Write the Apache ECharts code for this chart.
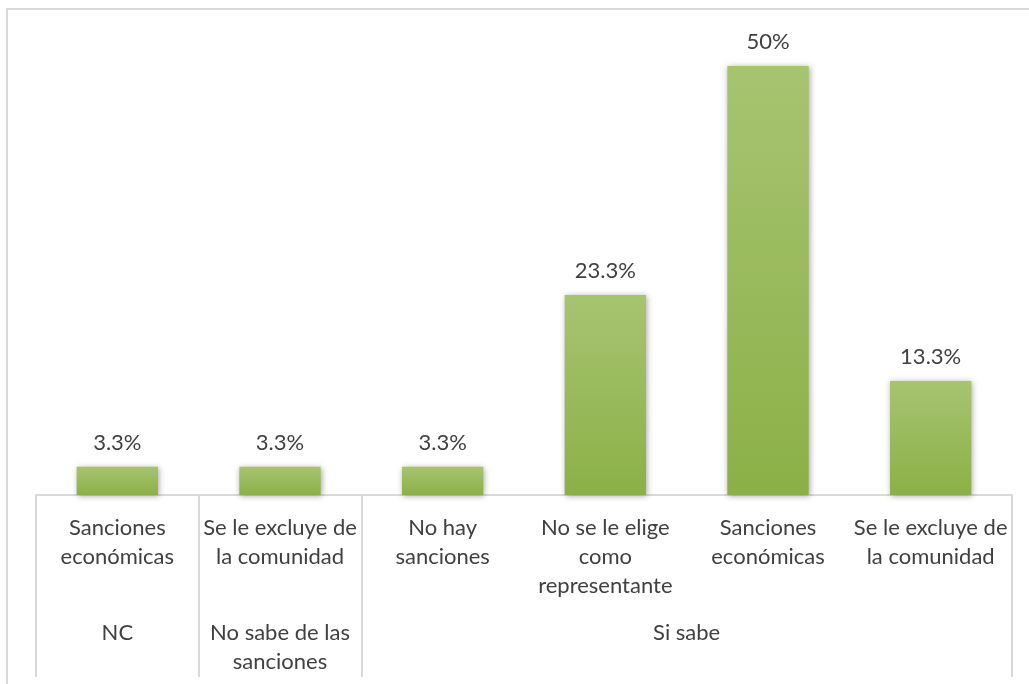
<!DOCTYPE html>
<html>
<head>
<meta charset="utf-8">
<script src="https://cdn.jsdelivr.net/npm/echarts@6/dist/echarts.min.js"></script>
<style>
  html, body { margin: 0; padding: 0; background: #fff; overflow: hidden; }
  #frame {
    position: absolute; left: 6px; top: 8px; width: 1100px; height: 760px;
    border: 2px solid #d9d9d9; box-sizing: border-box;
  }
  #main { position: absolute; left: 0; top: 0; width: 1029px; height: 684px; }
</style>
</head>
<body>
<div id="frame"></div>
<div id="main"></div>
<script>
// categorias (nivel 1) y grupos (nivel 2)
const categories = ['Sanciones\neconómicas', 'Se le excluye de\nla comunidad', 'No hay\nsanciones',
  'No se le elige\ncomo\nrepresentante', 'Sanciones\neconómicas', 'Se le excluye de\nla comunidad']
const values = [3.3, 3.3, 3.3, 23.3, 50, 13.3]
const groupNames = ['NC', 'No sabe de las\nsanciones', 'Si sabe']
const groupSpans = [1, 1, 4]

// limites y centros de los grupos en unidades de categoria
const groupEdges = [0]
const groupCenters = []
groupSpans.forEach((s, i) => {
  groupCenters.push(groupEdges[i] + s / 2)
  groupEdges.push(groupEdges[i] + s)
})

const font = 'Lato, "Open Sans", sans-serif'
const txt = '#404040'
const gray = '#d9d9d9'

var myChart = echarts.init(document.getElementById('main'))
const option = {
  animation: false,
  grid: { left: 36, right: 17, top: 66, bottom: 189 },
  xAxis: [
    {
      type: 'category',
      data: categories,
      axisLine: { lineStyle: { color: gray, width: 2 } },
      axisTick: { show: false },
      axisLabel: {
        interval: 0,
        color: txt,
        fontSize: 22,
        fontFamily: font,
        lineHeight: 29,
        margin: 18,
      },
    },
    {
      // segundo nivel: grupos
      type: 'value',
      position: 'bottom',
      min: 0,
      max: categories.length,
      axisLine: { show: false },
      splitLine: { show: false },
      axisTick: {
        show: true,
        customValues: groupEdges,
        length: 182,
        lineStyle: { color: gray, width: 2 },
      },
      axisLabel: {
        customValues: groupCenters,
        formatter: (v) => {
          const i = groupCenters.indexOf(v)
          return i >= 0 ? groupNames[i] : ''
        },
        color: txt,
        fontSize: 22,
        fontFamily: font,
        lineHeight: 29,
        margin: 123,
      },
    },
  ],
  yAxis: {
    type: 'value',
    min: 0,
    max: 50,
    show: false,
  },
  series: [
    {
      type: 'bar',
      xAxisIndex: 0,
      data: values,
      barWidth: '50%',
      itemStyle: {
        color: new echarts.graphic.LinearGradient(0, 0, 0, 1, [
          { offset: 0, color: '#a7c471' },
          { offset: 1, color: '#8cb047' },
        ]),
        shadowColor: 'rgba(0,0,0,0.35)',
        shadowBlur: 6,
        shadowOffsetX: 1,
        shadowOffsetY: 1,
      },
      label: {
        show: true,
        position: 'top',
        distance: 13,
        formatter: (p) => p.value + '%',
        color: txt,
        fontSize: 22,
        fontFamily: font,
      },
    },
  ],
}
option && myChart.setOption(option)
</script>
</body>
</html>
